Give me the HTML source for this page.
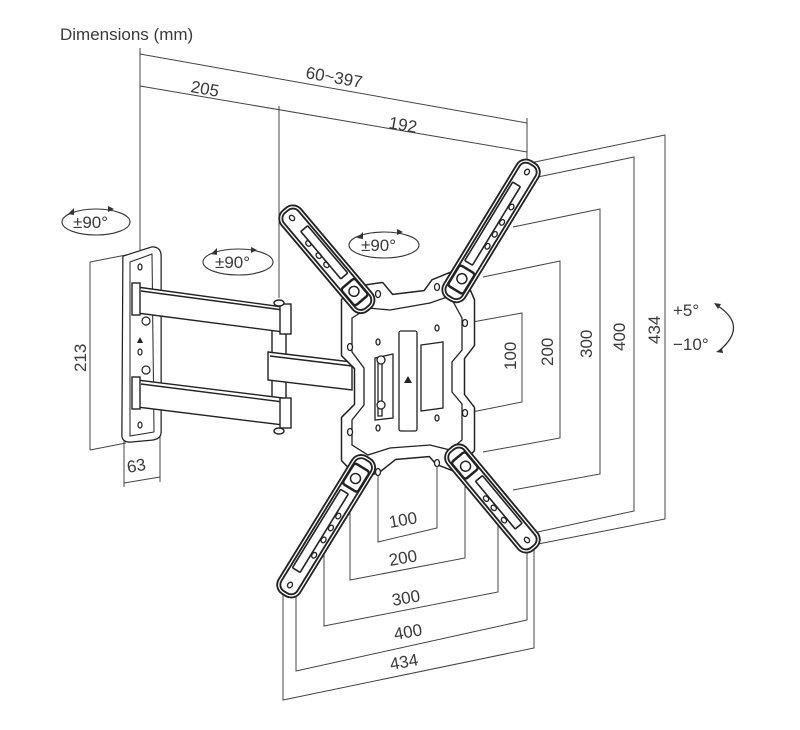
<!DOCTYPE html>
<html><head><meta charset="utf-8"><style>
html,body{margin:0;padding:0;background:#fff;}
svg{display:block;}
text{font-family:"Liberation Sans",sans-serif;fill:#3a3a3a;}
</style></head><body>
<svg width="800" height="730" viewBox="0 0 800 730" xmlns="http://www.w3.org/2000/svg">
<text x="60" y="40" font-size="17">Dimensions (mm)</text>

<g stroke="#444" stroke-width="1" fill="none">
<line x1="140" y1="48" x2="140" y2="250"/>
<line x1="140" y1="54" x2="527" y2="123"/>
<line x1="140" y1="86" x2="527" y2="152"/>
<line x1="279" y1="106" x2="279" y2="298"/>
<line x1="527" y1="118" x2="527" y2="160"/>
<line x1="90" y1="262" x2="90" y2="450"/>
<line x1="90" y1="262" x2="126" y2="255"/>
<line x1="90" y1="450" x2="126" y2="443"/>
<line x1="124" y1="440" x2="124" y2="487"/>
<line x1="160" y1="435" x2="160" y2="482"/>
<line x1="124" y1="483" x2="160" y2="477"/>
<polyline points="378,470 378,542 437,528 437,455"/>
<polyline points="350,470 350,580 465,558 465,470"/>
<polyline points="324,540 324,626 498,592 498,505"/>
<polyline points="296,570 296,671 527,620 527,540"/>
<polyline points="283,580 283,700 534,648 534,545"/>
<polyline points="467,323 522,313 522,402 467,413"/>
<polyline points="483,277 560,261 560,438 483,452"/>
<polyline points="513,227 600,209 600,474 513,490"/>
<polyline points="533,178 634,157 634,511 533,533"/>
<polyline points="530,163 665,135 665,519 533,545"/>
</g>
<g font-size="17">
<text x="305" y="78" transform="rotate(10 305 78)">60~397</text>
<text x="190" y="92" transform="rotate(10 190 92)">205</text>
<text x="388" y="128" transform="rotate(10 388 128)">192</text>
<text x="86" y="372" transform="rotate(-90 86 372)">213</text>
<text x="128" y="473" transform="rotate(-10 128 473)">63</text>
<text x="390" y="528" transform="rotate(-10 390 528)">100</text>
<text x="390" y="566" transform="rotate(-10 390 566)">200</text>
<text x="393" y="606" transform="rotate(-10 393 606)">300</text>
<text x="395" y="640" transform="rotate(-10 395 640)">400</text>
<text x="391" y="670" transform="rotate(-10 391 670)">434</text>
<text x="516" y="370" transform="rotate(-90 516 370)">100</text>
<text x="553" y="366" transform="rotate(-90 553 366)">200</text>
<text x="592" y="358" transform="rotate(-90 592 358)">300</text>
<text x="625" y="351" transform="rotate(-90 625 351)">400</text>
<text x="660" y="344" transform="rotate(-90 660 344)">434</text>
<text x="673" y="316">+5°</text>
<text x="673" y="350">−10°</text>
</g>
<path d="M718,306 Q748,326 720,350" stroke="#333" stroke-width="1.3" fill="none"/>
<path d="M714,303 l7,1 -3,5z M716,352 l6,-4 1,5z" fill="#333"/>

<g stroke="#333" stroke-width="1.1" fill="none">
<ellipse cx="96" cy="222" rx="34" ry="13"/>
<ellipse cx="238" cy="262" rx="35" ry="13"/>
<ellipse cx="384" cy="245" rx="35" ry="13"/>
</g>
<g fill="#333">
<path d="M68,214 l6,-6 0,7z"/><path d="M211,254 l6,-6 0,7z"/><path d="M357,238 l6,-6 0,7z"/>
<path d="M114,209 l-6,-3 0,6z"/><path d="M257,250 l-6,-3 0,6z"/><path d="M403,232 l-6,-3 0,6z"/>
</g>
<g font-size="17">
<text x="73" y="228">±90°</text>
<text x="215" y="268">±90°</text>
<text x="361" y="251">±90°</text>
</g>

<g stroke="#222" fill="#fff">
<path d="M124,257 L152,248 Q160,248 160,256 L160,432 Q160,438 152,439 L130,441 Q123,441 123,435 Z" stroke-width="3.5"/>
<path d="M124,257 L152,248 Q160,248 160,256 L160,432 Q160,438 152,439 L130,441 Q123,441 123,435 Z" stroke="#fff" stroke-width="1"/>
<path d="M130,262 L152,254 L154,432 L130,436 Z" stroke-width="1" fill="none"/>
</g>
<g fill="none" stroke="#222" stroke-width="1.2">
<ellipse cx="140" cy="267" rx="2" ry="3"/><ellipse cx="140" cy="352" rx="2" ry="3"/><ellipse cx="140" cy="425" rx="2" ry="3"/>
<circle cx="146" cy="321" r="4"/><circle cx="146" cy="370" r="4"/>
</g>
<path d="M137,343 l3,-6 3,6z" fill="#222"/>
<g stroke="#222" stroke-width="1.4" fill="#fff">
<rect x="272" y="330" width="14" height="72"/>
<path d="M137,287 L283,307 L283,332 L137,313 Z"/>
<path d="M141,291 L283,310"/>
<rect x="280" y="304" width="11" height="30"/>
<path d="M137,380 L283,398 L283,425 L137,407 Z"/>
<path d="M141,384 L283,402"/>
<rect x="280" y="398" width="11" height="30"/>
<path d="M268,352 L352,362 L352,390 L268,380 Z"/>
<path d="M270,356 L352,366"/>
<rect x="132" y="283" width="8" height="32"/>
<rect x="132" y="377" width="8" height="32"/>
<ellipse cx="279" cy="303" rx="5" ry="3"/>
<ellipse cx="279" cy="431" rx="5" ry="3"/>
</g>

<g fill="#fff">
<path d="M343,300 L362,287 L382,284 L392,296 L425,292 L433,281 L460,270 L473,300 L473,345 L463,358 L463,395 L473,408 L473,450 L455,470 L437,463 L430,455 L395,458 L380,470 L360,478 L343,460 L343,418 L356,405 L356,368 L343,355 Z" stroke="#222" stroke-width="4.5" stroke-linejoin="round"/>
<path d="M343,300 L362,287 L382,284 L392,296 L425,292 L433,281 L460,270 L473,300 L473,345 L463,358 L463,395 L473,408 L473,450 L455,470 L437,463 L430,455 L395,458 L380,470 L360,478 L343,460 L343,418 L356,405 L356,368 L343,355 Z" stroke="#fff" stroke-width="1.5" stroke-linejoin="round"/>
<path d="M352,318 L368,308 L390,310 L430,303 L450,296 L462,318 L462,350 L452,362 L452,392 L462,404 L462,440 L450,450 L430,445 L390,448 L368,455 L352,445 L352,420 L364,405 L364,368 L352,352 Z" stroke="#222" stroke-width="1.3" fill="none"/>
</g>
<g stroke="#222" stroke-width="1.3" fill="#fff">
<rect x="399" y="331" width="18" height="100" rx="2"/>
<path d="M421,345 L443,342 L443,408 L421,411 Z" fill="none"/>
<path d="M375,358 L393,354 L393,418 L375,420 Z" fill="none"/>
<path d="M378,360 L382,360 L382,416 L378,416 Z" fill="none"/>
<circle cx="381" cy="360" r="4"/><circle cx="381" cy="405" r="4"/>
<ellipse cx="378" cy="342" rx="2" ry="3"/><ellipse cx="378" cy="428" rx="2" ry="3"/>
<ellipse cx="437" cy="328" rx="2" ry="3"/><ellipse cx="437" cy="418" rx="2" ry="3"/>
<ellipse cx="465" cy="323" rx="2.5" ry="3.5"/><ellipse cx="465" cy="413" rx="2.5" ry="3.5"/>
<ellipse cx="350" cy="347" rx="2.5" ry="3.5"/><ellipse cx="350" cy="432" rx="2.5" ry="3.5"/>
<ellipse cx="437" cy="463" rx="2.5" ry="3.5"/><ellipse cx="378" cy="472" rx="2.5" ry="3.5"/>
<ellipse cx="437" cy="287" rx="2.5" ry="3.5"/><ellipse cx="378" cy="294" rx="2.5" ry="3.5"/>
</g>
<path d="M404,383 l4,-7 4,7z" fill="#222"/>

<g transform="translate(292,218) rotate(49.8)">
<rect x="-10" y="-11" width="128" height="22" rx="9" fill="#fff" stroke="#222" stroke-width="5"/>
<rect x="-10" y="-11" width="128" height="22" rx="9" fill="none" stroke="#fff" stroke-width="1.3"/>
<rect x="16" y="-7" width="62" height="9" rx="1" fill="none" stroke="#222" stroke-width="1.6"/>
<g fill="none" stroke="#222" stroke-width="1.3"><ellipse cx="0" cy="0" rx="3" ry="2.3"/><ellipse cx="30" cy="4" rx="3" ry="2.3"/><ellipse cx="46" cy="4" rx="3" ry="2.3"/><ellipse cx="58" cy="4" rx="3" ry="2.3"/></g>
<rect x="86" y="-9" width="22" height="18" rx="3" fill="#fff" stroke="#222" stroke-width="2.5"/>
<circle cx="96" cy="0" r="5" fill="none" stroke="#222" stroke-width="1.5"/>
</g>
<g transform="translate(527,172) rotate(121.4)">
<rect x="-10" y="-11" width="158" height="22" rx="9" fill="#fff" stroke="#222" stroke-width="5"/>
<rect x="-10" y="-11" width="158" height="22" rx="9" fill="none" stroke="#fff" stroke-width="1.3"/>
<rect x="16" y="-2" width="92" height="9" rx="1" fill="none" stroke="#222" stroke-width="1.6"/>
<g fill="none" stroke="#222" stroke-width="1.3"><ellipse cx="0" cy="0" rx="3" ry="2.3"/><ellipse cx="38" cy="-5" rx="3" ry="2.3"/><ellipse cx="56" cy="-5" rx="3" ry="2.3"/><ellipse cx="70" cy="-5" rx="3" ry="2.3"/><ellipse cx="84" cy="-5" rx="3" ry="2.3"/></g>
<rect x="114" y="-9" width="24" height="18" rx="3" fill="#fff" stroke="#222" stroke-width="2.5"/>
<circle cx="125" cy="0" r="5" fill="none" stroke="#222" stroke-width="1.5"/>
</g>
<g transform="translate(290,585) rotate(-58.4)">
<rect x="-10" y="-11" width="158" height="22" rx="9" fill="#fff" stroke="#222" stroke-width="5"/>
<rect x="-10" y="-11" width="158" height="22" rx="9" fill="none" stroke="#fff" stroke-width="1.3"/>
<rect x="16" y="-7" width="92" height="9" rx="1" fill="none" stroke="#222" stroke-width="1.6"/>
<g fill="none" stroke="#222" stroke-width="1.3"><ellipse cx="0" cy="0" rx="3" ry="2.3"/><ellipse cx="38" cy="5" rx="3" ry="2.3"/><ellipse cx="56" cy="5" rx="3" ry="2.3"/><ellipse cx="70" cy="5" rx="3" ry="2.3"/><ellipse cx="84" cy="5" rx="3" ry="2.3"/></g>
<rect x="114" y="-9" width="24" height="18" rx="3" fill="#fff" stroke="#222" stroke-width="2.5"/>
<circle cx="125" cy="0" r="5" fill="none" stroke="#222" stroke-width="1.5"/>
</g>
<g transform="translate(527,540) rotate(-129.8)">
<rect x="-10" y="-11" width="128" height="22" rx="9" fill="#fff" stroke="#222" stroke-width="5"/>
<rect x="-10" y="-11" width="128" height="22" rx="9" fill="none" stroke="#fff" stroke-width="1.3"/>
<rect x="16" y="-2" width="62" height="9" rx="1" fill="none" stroke="#222" stroke-width="1.6"/>
<g fill="none" stroke="#222" stroke-width="1.3"><ellipse cx="0" cy="0" rx="3" ry="2.3"/><ellipse cx="30" cy="-5" rx="3" ry="2.3"/><ellipse cx="46" cy="-5" rx="3" ry="2.3"/><ellipse cx="58" cy="-5" rx="3" ry="2.3"/></g>
<rect x="86" y="-9" width="22" height="18" rx="3" fill="#fff" stroke="#222" stroke-width="2.5"/>
<circle cx="96" cy="0" r="5" fill="none" stroke="#222" stroke-width="1.5"/>
</g>
</svg>
</body></html>
